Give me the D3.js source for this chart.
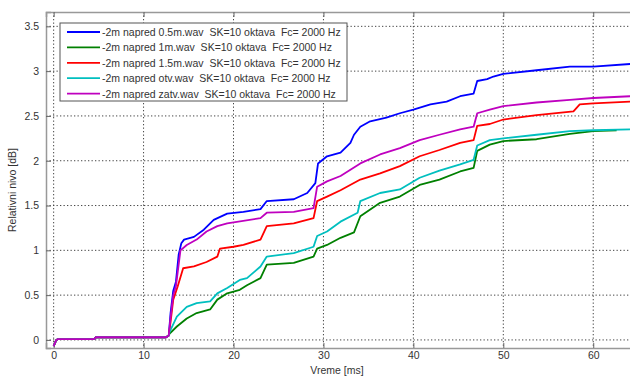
<!DOCTYPE html>
<html>
<head>
<meta charset="utf-8">
<script src="https://cdn.jsdelivr.net/npm/d3@7"></script>
<style>
  body { margin: 0; background: #fff; }
  text { font-family: "Liberation Sans", Arial, sans-serif; fill: #333; }
</style>
</head>
<body>
<script>
const xTicks = [0, 10, 20, 30, 40, 50, 60];
const yTicks = [0, 0.5, 1, 1.5, 2, 2.5, 3, 3.5];
const seriesNames = [
  "-2m napred 0.5m.wav  SK=10 oktava  Fc= 2000 Hz",
  "-2m napred 1m.wav  SK=10 oktava  Fc= 2000 Hz",
  "-2m napred 1.5m.wav  SK=10 oktava  Fc= 2000 Hz",
  "-2m napred otv.wav  SK=10 oktava  Fc= 2000 Hz",
  "-2m napred zatv.wav  SK=10 oktava  Fc= 2000 Hz"
];
const seriesColors = ["#0000ff", "#008000", "#ff0000", "#00bfbf", "#bf00bf"];

// common start, before the rise (ms, dB)
const start = [[0, -0.07], [0.3, 0], [0.5, 0.01], [4.5, 0.01], [4.7, 0.03], [12.5, 0.03], [12.8, 0.05]];

const blue = [[13.0, 0.3], [13.3, 0.55], [13.6, 0.65], [13.9, 0.95], [14.2, 1.08], [14.5, 1.12],
  [15.6, 1.15], [16.7, 1.23], [17.8, 1.34], [19.3, 1.41], [21.1, 1.43], [23.0, 1.46], [23.7, 1.55],
  [26.7, 1.57], [28.2, 1.64], [29.1, 1.75], [29.4, 1.97], [30.4, 2.05], [31.9, 2.09], [33.0, 2.2],
  [33.4, 2.29], [34.1, 2.38], [35.2, 2.44], [37.0, 2.48], [38.5, 2.53], [40.0, 2.57], [41.9, 2.63],
  [43.7, 2.66], [45.2, 2.72], [46.7, 2.75], [47.1, 2.89], [48.2, 2.91], [48.9, 2.94], [50.0, 2.97],
  [53.7, 3.01], [57.4, 3.05], [60.0, 3.05], [64.1, 3.08]];
const green = [[12.9, 0.07], [13.7, 0.15], [14.8, 0.24], [15.9, 0.3], [17.4, 0.34], [18.2, 0.45],
  [19.3, 0.52], [20.7, 0.56], [21.5, 0.61], [23.0, 0.69], [23.7, 0.84], [26.7, 0.86], [28.9, 0.93],
  [29.3, 1.02], [30.4, 1.06], [31.9, 1.14], [33.4, 1.2], [34.1, 1.38], [36.3, 1.53], [38.5, 1.6],
  [40.7, 1.73], [42.9, 1.79], [45.2, 1.88], [46.7, 1.92], [47.1, 2.11], [48.5, 2.18], [50.0, 2.22],
  [53.7, 2.24], [57.4, 2.3], [60.0, 2.33], [62.6, 2.34]];
const red = [[13.0, 0.2], [13.3, 0.45], [13.8, 0.6], [14.4, 0.8], [15.6, 0.82], [17.0, 0.87],
  [18.2, 0.93], [18.5, 1.02], [20.0, 1.04], [21.1, 1.06], [23.0, 1.12], [23.7, 1.27], [26.7, 1.3],
  [28.9, 1.36], [29.3, 1.55], [30.4, 1.6], [31.9, 1.67], [34.1, 1.79], [36.3, 1.86], [38.5, 1.94],
  [40.7, 2.05], [42.9, 2.12], [45.2, 2.2], [46.7, 2.23], [47.1, 2.39], [48.5, 2.41], [50.0, 2.46],
  [53.7, 2.51], [57.8, 2.55], [58.5, 2.63], [60.0, 2.64], [64.1, 2.66]];
const cyan = [[12.9, 0.09], [13.7, 0.26], [14.8, 0.37], [15.9, 0.41], [17.4, 0.43], [18.2, 0.52],
  [19.3, 0.58], [20.7, 0.67], [21.5, 0.69], [23.0, 0.82], [23.7, 0.93], [26.7, 0.97], [28.9, 1.04],
  [29.3, 1.16], [30.4, 1.21], [31.9, 1.32], [33.8, 1.42], [34.1, 1.55], [36.3, 1.64], [38.5, 1.68],
  [40.7, 1.81], [42.9, 1.89], [45.2, 1.96], [46.7, 2.01], [47.1, 2.17], [48.5, 2.23], [50.0, 2.25],
  [53.7, 2.29], [57.4, 2.33], [60.0, 2.34], [64.1, 2.35]];
const magenta = [[13.0, 0.25], [13.3, 0.5], [13.6, 0.6], [14.1, 1.0], [14.8, 1.06], [15.9, 1.12],
  [17.0, 1.21], [18.2, 1.27], [19.3, 1.3], [23.0, 1.36], [23.7, 1.42], [26.7, 1.43], [28.9, 1.47],
  [29.3, 1.71], [30.4, 1.77], [31.9, 1.83], [34.1, 1.97], [36.3, 2.07], [38.5, 2.14], [40.7, 2.23],
  [42.9, 2.29], [45.2, 2.35], [46.7, 2.38], [47.1, 2.53], [48.5, 2.57], [50.0, 2.61], [53.7, 2.65],
  [57.4, 2.68], [60.0, 2.7], [64.1, 2.72]];

const series = [blue, green, red, cyan, magenta];

const w = 630, h = 376;
const svg = d3.select("body").append("svg").attr("width", w).attr("height", h);

const pLeft = 46, pRight = 640, pTop = 12, pBottom = 348;
const x = d3.scaleLinear().domain([-0.85, 65.2]).range([pLeft, pRight]);
const y = d3.scaleLinear().domain([-0.09, 3.66]).range([pBottom, pTop]);

// grid
svg.append("g")
  .selectAll("line")
  .data(xTicks)
  .enter()
  .append("line")
  .attr("x1", d => x(d)).attr("x2", d => x(d))
  .attr("y1", pTop).attr("y2", pBottom)
  .attr("stroke", "#444").attr("stroke-dasharray", "1.3,2.2");
svg.append("g")
  .selectAll("line")
  .data(yTicks)
  .enter()
  .append("line")
  .attr("x1", pLeft).attr("x2", pRight)
  .attr("y1", d => y(d)).attr("y2", d => y(d))
  .attr("stroke", "#444").attr("stroke-dasharray", "1.3,2.2");

// axes
const xAxis = d3.axisBottom(x).tickValues(xTicks).tickSize(-5).tickPadding(4).tickFormat(d3.format("d"));
const yAxis = d3.axisLeft(y).tickValues(yTicks).tickSize(-5).tickPadding(7).tickFormat(d => d);
const gx = svg.append("g").attr("transform", "translate(0," + pBottom + ")").call(xAxis);
const gy = svg.append("g").attr("transform", "translate(" + pLeft + ",0)").call(yAxis);
const gt = svg.append("g").attr("transform", "translate(0," + pTop + ")")
  .call(d3.axisTop(x).tickValues(xTicks).tickSize(-5).tickFormat(""));
[gx, gy, gt].forEach(g => {
  g.selectAll("text").style("font-size", "10.5px").style("fill", "#333");
  g.selectAll("line").attr("stroke", "#666");
  g.select(".domain").attr("stroke", "#999").attr("stroke-width", 1.5);
});

// curves
const line = d3.line().x(d => x(d[0])).y(d => y(d[1]));
svg.append("g")
  .selectAll("path")
  .data(series)
  .enter()
  .append("path")
  .attr("d", d => line(start.concat(d)))
  .attr("fill", "none")
  .attr("stroke", (d, i) => seriesColors[i])
  .attr("stroke-width", 1.8)
  .attr("stroke-linejoin", "round");

// labels
svg.append("text").attr("x", 337).attr("y", 374).attr("text-anchor", "middle")
  .style("font-size", "10.5px").text("Vreme [ms]");
svg.append("text").attr("transform", "translate(16,190) rotate(-90)").attr("text-anchor", "middle")
  .style("font-size", "10.5px").text("Relativni nivo [dB]");

// legend
const legend = svg.append("g").attr("transform", "translate(60,23)");
legend.append("rect").attr("width", 287).attr("height", 78)
  .attr("fill", "#fff").attr("stroke", "#555").attr("stroke-width", 1);
const item = legend.selectAll("g.item")
  .data(seriesNames)
  .enter()
  .append("g")
  .attr("class", "item")
  .attr("transform", (d, i) => "translate(0," + (9 + i * 15.4) + ")");
item.append("line").attr("x1", 7).attr("x2", 40).attr("y1", 0).attr("y2", 0)
  .attr("stroke", (d, i) => seriesColors[i]).attr("stroke-width", 1.8);
item.append("text").attr("x", 42).attr("y", 4).style("font-size", "10.5px").style("white-space", "pre")
  .text(d => d);
</script>
</body>
</html>
